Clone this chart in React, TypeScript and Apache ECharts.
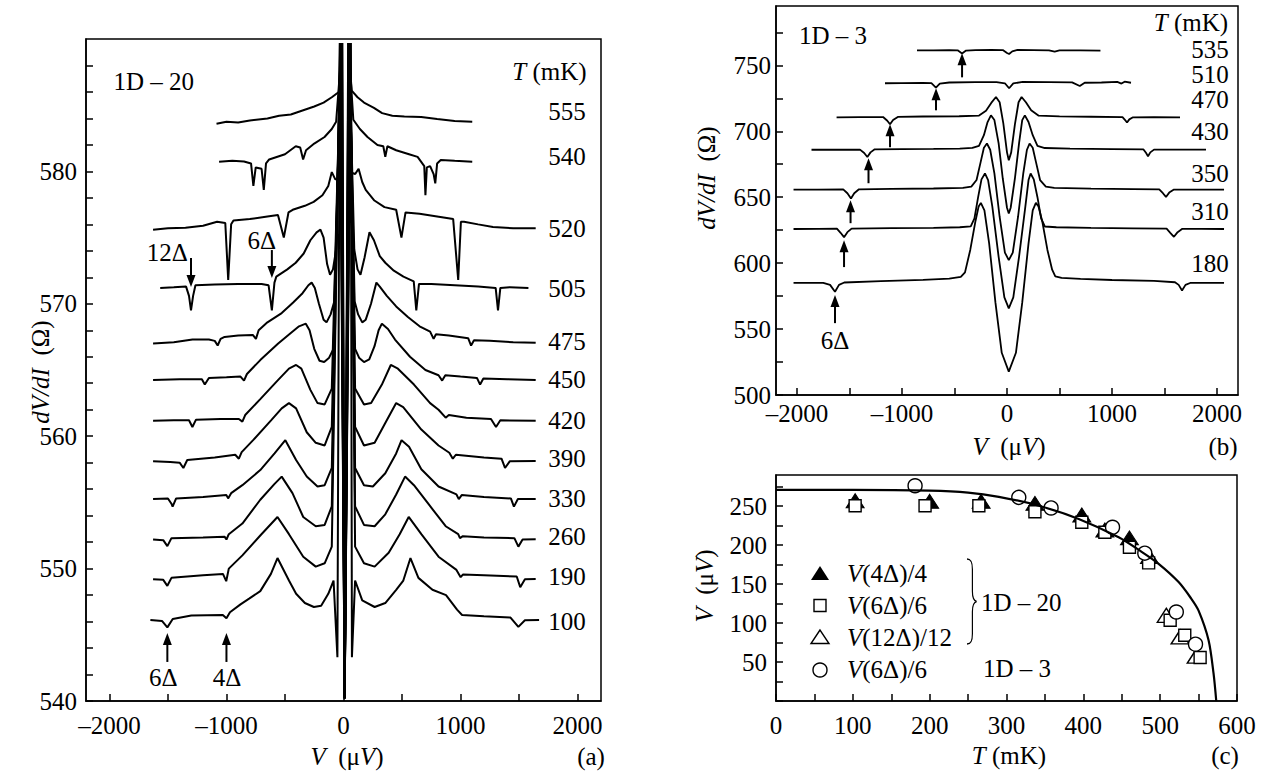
import React, { useEffect, useRef } from "react";
import * as echarts from "echarts";

const FONT = '"Liberation Serif","Times New Roman",Times,serif';

// ---------------- Panel (a): sample 1D-20, dV/dI vs V ----------------
const aTemps = ["555", "540", "520", "505", "475", "450", "420", "390", "330", "260", "190", "100"];
const aLabelR = [584.51, 581.11, 575.7, 571.17, 567.14, 564.25, 561.22, 558.33, 555.31, 552.41, 549.39, 545.99];

const a555 = [[-1085, 583.6], [-1000, 583.75], [-900, 583.7], [-800, 583.85], [-650, 584.0], [-550, 584.2], [-450, 584.3], [-350, 584.6], [-250, 584.9], [-170, 585.2], [-100, 585.6], [-40, 586.0], [-10, 589.7], [10, 540.2], [40, 589.7], [70, 586.1], [120, 585.6], [175, 585.2], [260, 584.8], [330, 584.4], [417, 584.2], [520, 584.15], [664, 584.1], [800, 583.95], [950, 583.8], [1100, 583.75]];
const a540 = [[-1063, 580.73], [-950, 580.8], [-850, 580.75], [-790, 580.6], [-770, 578.9], [-750, 580.3], [-700, 580.2], [-681, 578.6], [-662, 580.6], [-635, 580.9], [-500, 581.3], [-408, 581.9], [-370, 581.8], [-345, 580.9], [-320, 581.6], [-250, 582.1], [-162, 582.6], [-100, 583.2], [-63, 583.75], [-12, 589.7], [10, 540.2], [42, 589.7], [84, 583.9], [140, 583.2], [205, 582.6], [290, 582.0], [340, 581.9], [357, 581.1], [375, 581.9], [450, 581.6], [560, 581.3], [633, 581.1], [690, 580.4], [700, 578.2], [712, 580.3], [740, 580.4], [770, 579.8], [784, 579.1], [800, 580.6], [831, 580.86], [950, 580.8], [1100, 580.73]];
const a520 = [[-1627, 575.6], [-1500, 575.7], [-1350, 575.75], [-1200, 575.9], [-1080, 576.2], [-1010, 576.1], [-985, 571.8], [-960, 576.0], [-940, 576.3], [-800, 576.4], [-650, 576.6], [-560, 576.7], [-510, 575.0], [-470, 576.9], [-434, 577.1], [-330, 577.4], [-255, 577.7], [-180, 578.2], [-130, 578.9], [-100, 579.95], [-70, 579.4], [-45, 579.4], [-14, 589.7], [10, 540.2], [44, 589.7], [68, 579.9], [100, 579.8], [129, 580.2], [160, 579.2], [190, 578.6], [264, 577.8], [350, 577.3], [450, 577.1], [495, 575.0], [530, 576.9], [650, 576.8], [800, 576.6], [937, 576.4], [980, 571.8], [1003, 576.2], [1030, 576.2], [1150, 576.0], [1277, 575.8], [1450, 575.7], [1642, 575.7]];
const a505 = [[-1566, 571.2], [-1450, 571.25], [-1345, 571.3], [-1320, 570.6], [-1303, 569.5], [-1285, 570.6], [-1265, 571.4], [-1100, 571.45], [-900, 571.5], [-700, 571.5], [-640, 571.4], [-612, 569.5], [-590, 571.6], [-574, 572.05], [-480, 572.6], [-408, 573.1], [-340, 573.8], [-283, 574.8], [-230, 575.4], [-197, 575.6], [-170, 575.0], [-140, 573.0], [-115, 572.2], [-90, 572.6], [-63, 574.1], [-16, 589.7], [10, 540.2], [46, 589.7], [92, 574.1], [120, 572.6], [145, 572.2], [180, 573.5], [222, 575.4], [260, 574.8], [310, 573.6], [357, 573.1], [430, 572.5], [512, 572.05], [600, 571.7], [622, 569.5], [645, 571.5], [750, 571.5], [950, 571.4], [1150, 571.3], [1300, 571.2], [1320, 569.5], [1340, 571.2], [1420, 571.25], [1580, 571.2]];
const a475 = [[-1627, 567.0], [-1450, 567.1], [-1290, 567.3], [-1150, 567.3], [-1100, 567.2], [-1075, 566.85], [-1050, 567.35], [-1016, 567.5], [-900, 567.6], [-775, 567.65], [-748, 567.35], [-725, 568.0], [-650, 568.6], [-528, 569.3], [-430, 570.1], [-350, 570.8], [-300, 571.4], [-272, 571.6], [-245, 571.2], [-210, 570.0], [-170, 568.8], [-145, 568.6], [-110, 569.2], [-78, 570.2], [-18, 589.7], [10, 540.2], [48, 589.7], [95, 570.2], [125, 569.2], [160, 568.6], [190, 568.8], [235, 570.0], [281, 571.6], [310, 571.3], [370, 570.6], [450, 569.8], [550, 569.0], [650, 568.3], [740, 567.9], [770, 567.35], [790, 567.7], [900, 567.6], [1065, 567.4], [1090, 566.85], [1115, 567.25], [1250, 567.2], [1450, 567.1], [1642, 567.05]];
const a450 = [[-1627, 564.25], [-1400, 564.3], [-1210, 564.3], [-1185, 563.9], [-1150, 564.4], [-1000, 564.45], [-880, 564.5], [-850, 564.2], [-825, 564.7], [-711, 565.75], [-558, 567.0], [-450, 567.8], [-380, 568.3], [-322, 568.5], [-290, 568.0], [-250, 566.6], [-205, 565.7], [-165, 565.6], [-125, 565.9], [-85, 566.6], [-20, 589.7], [10, 540.2], [50, 589.7], [99, 566.6], [135, 565.9], [175, 565.6], [220, 565.8], [265, 566.8], [300, 568.0], [328, 568.5], [380, 568.1], [440, 567.3], [568, 566.0], [700, 565.0], [812, 564.6], [843, 564.2], [870, 564.6], [1000, 564.5], [1140, 564.4], [1167, 563.9], [1195, 564.35], [1400, 564.3], [1642, 564.25]];
const a420 = [[-1627, 561.17], [-1450, 561.2], [-1320, 561.2], [-1291, 560.7], [-1260, 561.25], [-1050, 561.3], [-894, 561.3], [-864, 561.1], [-840, 561.6], [-711, 562.8], [-558, 564.25], [-466, 565.1], [-405, 565.38], [-360, 565.1], [-283, 563.5], [-222, 562.5], [-161, 562.4], [-100, 563.6], [-22, 589.7], [10, 540.2], [52, 589.7], [99, 563.6], [175, 562.4], [236, 562.5], [328, 563.9], [404, 565.38], [465, 565.1], [602, 563.9], [740, 562.5], [812, 562.0], [873, 561.4], [900, 561.6], [1050, 561.4], [1260, 561.3], [1303, 560.7], [1340, 561.2], [1642, 561.17]];
const a390 = [[-1627, 558.1], [-1480, 558.05], [-1400, 558.0], [-1368, 557.6], [-1335, 558.2], [-1100, 558.4], [-925, 558.6], [-894, 558.3], [-870, 558.8], [-772, 559.7], [-619, 561.2], [-528, 562.1], [-466, 562.5], [-405, 562.1], [-314, 560.3], [-237, 559.5], [-161, 559.3], [-100, 560.7], [-24, 589.7], [10, 540.2], [54, 589.7], [99, 560.7], [175, 559.3], [266, 559.5], [357, 561.0], [450, 562.5], [510, 562.2], [665, 560.5], [812, 559.3], [904, 558.75], [934, 558.3], [960, 558.6], [1200, 558.4], [1350, 558.3], [1380, 557.6], [1420, 558.1], [1642, 558.13]];
const a330 = [[-1627, 555.26], [-1500, 555.3], [-1470, 554.9], [-1460, 554.68], [-1430, 555.3], [-1200, 555.4], [-1000, 555.55], [-986, 555.3], [-960, 555.7], [-864, 556.3], [-711, 557.44], [-589, 558.7], [-497, 559.7], [-405, 558.2], [-314, 556.95], [-222, 556.2], [-161, 556.3], [-100, 557.6], [-26, 589.7], [10, 540.2], [56, 589.7], [99, 557.6], [175, 556.3], [251, 556.2], [357, 557.2], [450, 558.7], [496, 559.7], [560, 559.2], [665, 557.5], [812, 556.2], [965, 555.6], [985, 555.25], [1010, 555.55], [1200, 555.4], [1430, 555.3], [1456, 554.68], [1490, 555.25], [1642, 555.26]];
const a260 = [[-1627, 552.2], [-1540, 552.15], [-1505, 551.7], [-1470, 552.3], [-1200, 552.35], [-1015, 552.4], [-1000, 552.2], [-980, 552.6], [-864, 553.4], [-711, 555.2], [-589, 556.4], [-528, 556.95], [-436, 555.7], [-344, 553.9], [-237, 553.2], [-161, 553.3], [-100, 554.7], [-28, 589.7], [10, 540.2], [58, 589.7], [99, 554.7], [175, 553.3], [266, 553.2], [357, 554.1], [450, 555.6], [526, 556.95], [602, 556.3], [724, 554.9], [873, 553.2], [980, 552.6], [995, 552.3], [1020, 552.45], [1200, 552.35], [1460, 552.3], [1494, 551.66], [1530, 552.2], [1642, 552.21]];
const a190 = [[-1627, 549.2], [-1540, 549.15], [-1505, 548.7], [-1470, 549.3], [-1200, 549.5], [-1030, 549.6], [-1002, 549.05], [-980, 550.0], [-864, 551.0], [-711, 552.5], [-564, 553.9], [-466, 552.6], [-344, 550.9], [-237, 550.15], [-161, 550.4], [-100, 551.66], [-30, 589.7], [10, 540.2], [60, 589.7], [99, 551.66], [175, 550.4], [266, 550.15], [386, 551.2], [480, 552.6], [557, 553.9], [665, 552.6], [812, 550.9], [965, 549.9], [1001, 549.35], [1020, 549.55], [1200, 549.5], [1480, 549.4], [1510, 548.6], [1550, 549.2], [1642, 549.21]];
const a100 = [[-1650, 546.12], [-1551, 546.05], [-1505, 545.56], [-1459, 546.2], [-1300, 546.45], [-1031, 546.5], [-1000, 546.25], [-970, 546.7], [-880, 547.3], [-803, 547.75], [-711, 548.3], [-620, 549.6], [-564, 550.8], [-466, 549.1], [-405, 548.1], [-330, 547.4], [-253, 547.1], [-191, 547.2], [-130, 548.1], [-85, 549.1], [-52, 543.3], [-32, 589.7], [10, 540.2], [62, 589.7], [72, 543.3], [99, 549.1], [160, 547.6], [266, 547.1], [357, 547.4], [450, 548.4], [511, 549.1], [572, 550.8], [640, 549.3], [760, 548.4], [876, 548.0], [970, 546.9], [1013, 546.5], [1200, 546.4], [1427, 546.3], [1494, 545.6], [1550, 546.1], [1671, 546.12]];
const aCurves = [a555, a540, a520, a505, a475, a450, a420, a390, a330, a260, a190, a100];

const aXTicks = [-2000, -1500, -1000, -500, 0, 500, 1000, 1500, 2000];
const aXLabels = [-2000, -1000, 0, 1000, 2000];
const aYTicks = [540, 542, 544, 546, 548, 550, 552, 554, 556, 558, 560, 562, 564, 566, 568, 570, 572, 574, 576, 578, 580, 582, 584, 586, 588];
const aYLabels = [540, 550, 560, 570, 580];

// arrows in panel (a)
const aArrows = [
  { v: -1303, tail: 573.46, tip: 571.27, text: "12Δ", tv: -1506, tr: 573.9 },
  { v: -612, tail: 574.06, tip: 571.95, text: "6Δ", tv: -698, tr: 574.8 },
  { v: -1505, tail: 542.95, tip: 545.14, text: "6Δ", tv: -1540, tr: 541.74 },
  { v: -1000, tail: 542.95, tip: 545.14, text: "4Δ", tv: -996, tr: 541.74 },
];

// ---------------- Panel (b): sample 1D-3 ----------------
const bTemps = ["535", "510", "470", "430", "350", "310", "180"];
const bLabelR = [761.7, 742.8, 723.9, 699.6, 667.8, 639.0, 599.6];

const b535 = [[-857, 761.3], [-700, 761.4], [-550, 761.5], [-470, 761.4], [-428, 759.0], [-390, 761.2], [-300, 761.6], [-150, 761.8], [-40, 761.6], [0, 759.4], [20, 758.6], [50, 760.6], [100, 761.7], [250, 761.6], [400, 761.4], [454, 760.4], [500, 761.3], [700, 761.3], [890, 761.2]];
const b510 = [[-1162, 736.4], [-1000, 736.5], [-800, 736.7], [-720, 736.5], [-677, 733.1], [-640, 736.2], [-550, 737.0], [-300, 737.2], [-100, 737.3], [-20, 736.4], [20, 732.6], [60, 736.3], [150, 737.4], [400, 737.3], [620, 737.1], [693, 734.3], [740, 736.8], [900, 737.0], [1050, 737.4], [1090, 736.2], [1120, 737.6], [1181, 736.8]];
const b470 = [[-1623, 710.6], [-1400, 710.7], [-1180, 710.8], [-1140, 708.0], [-1114, 705.3], [-1085, 708.5], [-1040, 710.9], [-800, 711.2], [-456, 711.4], [-266, 711.9], [-200, 715.5], [-150, 721.5], [-105, 726.0], [-70, 722.0], [-35, 706.0], [0, 684.0], [17, 678.0], [40, 684.0], [75, 705.0], [110, 722.0], [139, 726.0], [180, 722.0], [230, 716.0], [302, 711.8], [500, 711.3], [800, 711.0], [1100, 710.7], [1125, 708.5], [1143, 706.6], [1165, 709.0], [1200, 710.6], [1400, 710.7], [1648, 710.6]];
const b430 = [[-1862, 686.0], [-1600, 686.0], [-1400, 686.1], [-1360, 683.5], [-1330, 680.5], [-1300, 684.0], [-1260, 686.3], [-1000, 686.4], [-700, 686.6], [-450, 686.9], [-330, 687.4], [-267, 689.0], [-220, 697.0], [-185, 707.0], [-153, 712.1], [-120, 708.5], [-80, 691.0], [-40, 664.0], [0, 642.0], [17, 637.6], [35, 642.0], [75, 664.0], [115, 691.0], [145, 708.5], [170, 712.1], [205, 707.0], [245, 697.0], [290, 689.0], [360, 687.3], [600, 686.8], [1000, 686.5], [1300, 686.2], [1325, 683.5], [1343, 681.0], [1365, 684.0], [1400, 686.1], [1650, 686.1], [1895, 686.1]];
const b350 = [[-2033, 655.7], [-1800, 655.8], [-1560, 655.9], [-1520, 653.0], [-1486, 649.0], [-1455, 653.0], [-1410, 656.0], [-1100, 656.3], [-700, 656.6], [-420, 657.0], [-340, 658.0], [-290, 663.0], [-250, 677.0], [-220, 687.5], [-191, 690.7], [-160, 686.0], [-120, 668.0], [-70, 635.0], [-20, 608.0], [17, 602.3], [55, 608.0], [105, 635.0], [155, 668.0], [190, 686.0], [215, 690.7], [245, 687.5], [275, 677.0], [315, 663.0], [370, 658.0], [450, 657.0], [800, 656.5], [1200, 656.2], [1450, 655.9], [1485, 653.0], [1514, 650.2], [1545, 653.5], [1590, 655.8], [1800, 655.7], [2067, 655.7]];
const b310 = [[-2033, 625.9], [-1800, 626.0], [-1620, 626.1], [-1585, 623.0], [-1552, 619.7], [-1520, 623.5], [-1480, 626.2], [-1100, 626.5], [-700, 626.8], [-450, 627.2], [-345, 627.8], [-310, 634.0], [-275, 650.0], [-243, 663.5], [-210, 668.0], [-180, 663.0], [-140, 643.0], [-80, 605.0], [-25, 574.0], [17, 565.7], [60, 574.0], [115, 605.0], [175, 643.0], [205, 663.0], [225, 668.0], [255, 663.5], [290, 650.0], [325, 634.0], [360, 627.8], [470, 627.2], [800, 626.8], [1200, 626.4], [1520, 626.1], [1555, 623.0], [1590, 620.0], [1625, 623.5], [1670, 626.0], [1850, 626.0], [2067, 625.9]];
const b180 = [[-2033, 585.1], [-1750, 585.0], [-1685, 583.5], [-1638, 578.3], [-1600, 583.5], [-1550, 585.3], [-1200, 586.3], [-800, 587.3], [-550, 588.3], [-440, 589.6], [-400, 593.0], [-350, 610.0], [-300, 632.0], [-270, 643.0], [-249, 645.7], [-215, 640.0], [-170, 615.0], [-110, 570.0], [-50, 532.0], [17, 517.7], [85, 532.0], [145, 570.0], [205, 615.0], [245, 640.0], [275, 645.7], [300, 643.0], [335, 632.0], [385, 610.0], [430, 595.0], [460, 590.0], [520, 588.8], [700, 588.0], [1000, 587.2], [1400, 586.5], [1600, 585.5], [1635, 583.5], [1667, 579.3], [1700, 583.5], [1750, 585.1], [2067, 585.1]];
const bCurves = [b535, b510, b470, b430, b350, b310, b180];

const bXTicks = [-2000, -1500, -1000, -500, 0, 500, 1000, 1500, 2000];
const bXLabels = [-2000, -1000, 0, 1000, 2000];
const bYTicks = [500, 525, 550, 575, 600, 625, 650, 675, 700, 725, 750, 775];
const bYLabels = [500, 550, 600, 650, 700, 750];

// arrows in panel (b)
const bArrows = [
  { v: -428, tail: 740.9, tip: 759.1 },
  { v: -676, tail: 715.9, tip: 732.6 },
  { v: -1114, tail: 687.9, tip: 705.3 },
  { v: -1319, tail: 660.6, tip: 679.5 },
  { v: -1490, tail: 630.3, tip: 647.7 },
  { v: -1552, tail: 597.0, tip: 617.4 },
  { v: -1638, tail: 554.5, tip: 575.8 },
];

// ---------------- Panel (c): V vs T ----------------
const cFit = [[0, 271], [100, 271], [200, 270], [250, 267.5], [290, 262], [342, 250.6], [394, 233.6], [446, 210], [475, 192], [498, 176], [524, 152.6], [540, 132], [550, 116], [563, 78], [569.4, 36], [573, 0]];
const c4 = [[103, 257.0], [200, 256.2], [267, 256.2], [337, 253.6], [398, 238.7], [428, 219.5], [460, 209.3], [486, 185.4]];
const c6 = [[103, 250.6], [194, 250.6], [264, 250.6], [337, 242.9], [398, 229.3], [428, 216.5], [460, 197.3], [485, 177.3], [513, 103.6], [532, 84.4], [552, 55.8]];
const c12 = [[508, 110.0], [526, 82.3], [547, 57.5]];
const c3 = [[181, 276.2], [316, 261.3], [358, 247.7], [438, 222.9], [480, 189.7], [521, 114.2], [546, 72.9]];

const cXTicks = [0, 50, 100, 150, 200, 250, 300, 350, 400, 450, 500, 550, 600];
const cXLabels = [0, 100, 200, 300, 400, 500, 600];
const cYTicks = [0, 25, 50, 75, 100, 125, 150, 175, 200, 225, 250, 275];
const cYLabels = [50, 100, 150, 200, 250];

const BRACE_D = "M0,0 C7,0 9,4 9,12 L9,38 C9,45 11,49 16,50 C11,51 9,55 9,62 L9,88 C9,96 7,100 0,100";
let braceRegistered = false;
function registerBrace() {
  if (braceRegistered) return;
  echarts.graphic.registerShape("brace", echarts.graphic.extendPath(BRACE_D, {}) as any);
  braceRegistered = true;
}

const fmt = (v: number) => (v < 0 ? "–" + Math.abs(v) : String(v));
const RICH = { i: { fontStyle: "italic", fontSize: 25, fontFamily: FONT, fill: "#000" } };

function axis(gi: number, min: number, max: number, ticks: number[], labels: number[], margin: number) {
  return {
    type: "value", gridIndex: gi, min, max,
    axisLine: { show: true, onZero: false, lineStyle: { color: "#000", width: 1.5 } },
    axisTick: { show: true, inside: true, length: 7, customValues: ticks, lineStyle: { color: "#000", width: 1.5 } },
    axisLabel: { show: true, customValues: labels, margin, color: "#000", fontSize: 25, fontFamily: FONT, formatter: (v: number) => fmt(v) },
    splitLine: { show: false },
  };
}

function buildOption() {
  const grid = (left: number, top: number, width: number, height: number) => ({
    left, top, width, height, show: true, borderColor: "#000", borderWidth: 1.5,
    backgroundColor: "rgba(0,0,0,0)", containLabel: false, outerBoundsMode: "none",
  });
  const series: any[] = [];
  aCurves.forEach((d, i) => series.push({
    type: "line", name: "a" + aTemps[i], xAxisIndex: 0, yAxisIndex: 0, data: d,
    showSymbol: false, symbol: "none", silent: true, clip: true,
    lineStyle: { color: "#000", width: 2 },
  }));
  bCurves.forEach((d, i) => series.push({
    type: "line", name: "b" + bTemps[i], xAxisIndex: 1, yAxisIndex: 1, data: d,
    showSymbol: false, symbol: "none", silent: true, clip: true,
    lineStyle: { color: "#000", width: 1.8 },
  }));
  series.push({
    type: "line", name: "fit", xAxisIndex: 2, yAxisIndex: 2, data: cFit, smooth: 0.3,
    showSymbol: false, symbol: "none", silent: true, clip: true, lineStyle: { color: "#000", width: 2.2 },
  });
  series.push({
    type: "scatter", name: "V(4Δ)/4", xAxisIndex: 2, yAxisIndex: 2, data: c4, symbol: "triangle", symbolSize: [18, 14],
    itemStyle: { color: "#000", borderColor: "#000", borderWidth: 1, opacity: 1 }, silent: true,
  });
  series.push({
    type: "scatter", name: "V(12Δ)/12", xAxisIndex: 2, yAxisIndex: 2, data: c12, symbol: "triangle", symbolSize: [18, 14],
    itemStyle: { color: "#fff", borderColor: "#000", borderWidth: 1.4, opacity: 1 }, silent: true,
  });
  series.push({
    type: "scatter", name: "V(6Δ)/6", xAxisIndex: 2, yAxisIndex: 2, data: c6, symbol: "rect", symbolSize: 12,
    itemStyle: { color: "#fff", borderColor: "#000", borderWidth: 1.4, opacity: 1 }, silent: true,
  });
  series.push({
    type: "scatter", name: "V(6Δ)/6 1D-3", xAxisIndex: 2, yAxisIndex: 2, data: c3, symbol: "circle", symbolSize: 14,
    itemStyle: { color: "#fff", borderColor: "#000", borderWidth: 1.4, opacity: 1 }, silent: true,
  });

  return {
    animation: false,
    backgroundColor: "#fff",
    textStyle: { fontFamily: FONT, color: "#000" },
    grid: [grid(86, 39, 515, 662), grid(776, 6, 462, 389), grid(776, 475, 461, 226)],
    xAxis: [
      axis(0, -2200, 2200, aXTicks, aXLabels, 12),
      axis(1, -2200, 2200, bXTicks, bXLabels, 6),
      axis(2, 0, 600, cXTicks, cXLabels, 12),
    ],
    yAxis: [
      axis(0, 540, 590, aYTicks, aYLabels, 9),
      axis(1, 500, 795, bYTicks, bYLabels, 5),
      axis(2, 0, 290, cYTicks, cYLabels, 9),
    ],
    series,
  };
}

function txt(x: number, y: number, text: string, o: any = {}) {
  return {
    type: "text", x, y, silent: true, rotation: o.rot || 0, z: 10,
    style: {
      text, fill: "#000", fontSize: o.size || 25, fontFamily: FONT,
      align: o.align || "center", verticalAlign: "middle", rich: RICH,
    },
  };
}
function arrow(x: number, yTail: number, yTip: number) {
  const dir = yTip > yTail ? 1 : -1;
  const hl = 12, hw = 4.5;
  return [
    { type: "line", silent: true, z: 10, shape: { x1: x, y1: yTail, x2: x, y2: yTip - dir * hl * 0.7 }, style: { stroke: "#000", lineWidth: 2 } },
    { type: "polygon", silent: true, z: 10, shape: { points: [[x, yTip], [x - hw, yTip - dir * hl], [x + hw, yTip - dir * hl]] }, style: { fill: "#000" } },
  ];
}

function buildGraphic(chart: any) {
  const px = (g: number, x: number, y: number) => chart.convertToPixel({ xAxisIndex: g, yAxisIndex: g }, [x, y]) as number[];
  const els: any[] = [];
  // panel (a)
  aTemps.forEach((t, i) => { const p = px(0, 1909, aLabelR[i]); els.push(txt(p[0], p[1], t)); });
  { const p = px(0, 1760, 587.53); els.push(txt(p[0], p[1], "{i|T} (mK)")); }
  { const p = px(0, -1966, 586.8); els.push(txt(p[0], p[1], "1D – 20", { align: "left" })); }
  aArrows.forEach((a) => {
    const t = px(0, a.v, a.tail), h = px(0, a.v, a.tip);
    els.push(...arrow(t[0], t[1], h[1]));
    const q = px(0, a.tv, a.tr); els.push(txt(q[0], q[1], a.text));
  });
  els.push(txt(40, 372, "{i|dV/dI}  (Ω)", { rot: Math.PI / 2 }));
  els.push(txt(347, 756, "{i|V}  (μ{i|V})"));
  els.push(txt(591, 756, "(a)"));
  // panel (b)
  bTemps.forEach((t, i) => { const p = px(1, 1933, bLabelR[i]); els.push(txt(p[0], p[1], t)); });
  { const p = px(1, 1752, 782.2); els.push(txt(p[0], p[1], "{i|T} (mK)")); }
  { const p = px(1, -1981, 772.7); els.push(txt(p[0], p[1], "1D – 3", { align: "left" })); }
  bArrows.forEach((a) => { const t = px(1, a.v, a.tail), h = px(1, a.v, a.tip); els.push(...arrow(t[0], t[1], h[1])); });
  { const p = px(1, -1638, 541.7); els.push(txt(p[0], p[1], "6Δ")); }
  els.push(txt(706, 178, "{i|dV/dI}  (Ω)", { rot: Math.PI / 2 }));
  els.push(txt(1009, 446, "{i|V}  (μ{i|V})"));
  els.push(txt(1223, 446, "(b)"));
  // panel (c)
  els.push(txt(704, 586, "{i|V}  (μ{i|V})", { rot: Math.PI / 2 }));
  els.push(txt(1009, 755, "{i|T} (mK)"));
  els.push(txt(1225, 755, "(c)"));
  // legend (c)
  const lx = 820;
  els.push({ type: "polygon", silent: true, z: 10, shape: { points: [[lx, 566], [lx - 9, 580], [lx + 9, 580]] }, style: { fill: "#000" } });
  els.push({ type: "rect", silent: true, z: 10, shape: { x: lx - 6, y: 599.5, width: 12, height: 12 }, style: { fill: "#fff", stroke: "#000", lineWidth: 1.4 } });
  els.push({ type: "polygon", silent: true, z: 10, shape: { points: [[lx, 630], [lx - 9, 643.5], [lx + 9, 643.5]] }, style: { fill: "#fff", stroke: "#000", lineWidth: 1.4 } });
  els.push({ type: "circle", silent: true, z: 10, shape: { cx: lx, cy: 670, r: 7 }, style: { fill: "#fff", stroke: "#000", lineWidth: 1.4 } });
  els.push(txt(847, 573, "{i|V}(4Δ)/4", { align: "left" }));
  els.push(txt(847, 605, "{i|V}(6Δ)/6", { align: "left" }));
  els.push(txt(847, 637, "{i|V}(12Δ)/12", { align: "left" }));
  els.push(txt(847, 669, "{i|V}(6Δ)/6", { align: "left" }));
  els.push({ type: "brace", silent: true, z: 10, x: 967, y: 559, scaleX: 0.6, scaleY: 0.85, style: { stroke: "#000", fill: "none", lineWidth: 1.4, strokeNoScale: true } });
  els.push(txt(981, 602, "1D – 20", { align: "left" }));
  els.push(txt(983, 668, "1D – 3", { align: "left" }));
  return els;
}

export default function App() {
  const ref = useRef<HTMLDivElement>(null);
  useEffect(() => {
    if (!ref.current) return;
    registerBrace();
    const chart = echarts.init(ref.current, null, { renderer: "svg" });
    chart.setOption(buildOption() as any);
    chart.setOption({ graphic: buildGraphic(chart) } as any);
    return () => chart.dispose();
  }, []);
  return <div ref={ref} style={{ position: "absolute", left: 0, top: 0, width: 1262, height: 771, background: "#fff" }} />;
}
